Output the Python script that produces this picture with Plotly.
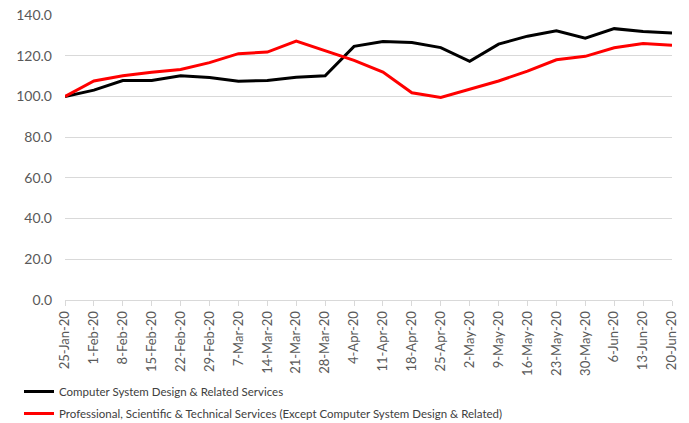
import plotly.graph_objects as go

dates = ["25-Jan-20", "1-Feb-20", "8-Feb-20", "15-Feb-20", "22-Feb-20", "29-Feb-20",
         "7-Mar-20", "14-Mar-20", "21-Mar-20", "28-Mar-20", "4-Apr-20", "11-Apr-20",
         "18-Apr-20", "25-Apr-20", "2-May-20", "9-May-20", "16-May-20", "23-May-20",
         "30-May-20", "6-Jun-20", "13-Jun-20", "20-Jun-20"]

computer_sys = [100.0, 103.1, 107.8, 107.8, 110.2, 109.3, 107.5, 107.8, 109.4, 110.1,
                124.6, 127.0, 126.5, 124.0, 117.2, 125.7, 129.6, 132.2, 128.6, 133.3,
                131.9, 131.2]

prof_sci_tech = [100.0, 107.6, 110.2, 111.9, 113.2, 116.6, 121.0, 121.8, 127.2, 122.6,
                 117.7, 112.0, 101.8, 99.5, 103.4, 107.6, 112.4, 118.0, 119.7, 123.9,
                 126.0, 125.2]

names = ["Computer System Design & Related Services",
         "Professional, Scientific & Technical Services (Except Computer System Design & Related)"]

y_ticks = [0, 20, 40, 60, 80, 100, 120, 140]

fig = go.Figure()
fig.add_trace(go.Scatter(x=dates, y=computer_sys, mode="lines", name=names[0],
                         legendgroup="a",
                         line=dict(color="#000000", width=3)))
fig.add_trace(go.Scatter(x=dates, y=prof_sci_tech, mode="lines", name=names[1],
                         legendgroup="b",
                         line=dict(color="#ff0000", width=3)))

font_family = "Lato, 'Open Sans', sans-serif"

fig.update_layout(
    width=689, height=423,
    margin=dict(l=65, r=17, t=15, b=123, autoexpand=False),
    plot_bgcolor="white", paper_bgcolor="white",
    font=dict(family=font_family, size=13, color="#595959"),
    showlegend=True,
    legend=dict(orientation="v", x=19 / 689, xref="container", xanchor="left",
                y=1 - 377 / 423, yref="container", yanchor="top",
                font=dict(family=font_family, size=11.5, color="#404040"), itemwidth=30,
                tracegroupgap=3, bgcolor="rgba(0,0,0,0)"),
    xaxis=dict(type="category", range=[0, 21], tickangle=-90, automargin=False,
               showgrid=False, showline=True, linecolor="#d9d9d9", linewidth=1,
               ticks="outside", tickcolor="#d9d9d9", ticklen=5,
               tickfont=dict(size=13, color="#595959")),
    yaxis=dict(range=[0, 140], tickvals=y_ticks, tickformat=".1f", automargin=False,
               showgrid=True, gridcolor="#d9d9d9", gridwidth=1,
               zeroline=False, showline=False, ticks="", ticklabelstandoff=12,
               tickfont=dict(size=14, color="#595959")),
)

fig.write_html("out.html")
